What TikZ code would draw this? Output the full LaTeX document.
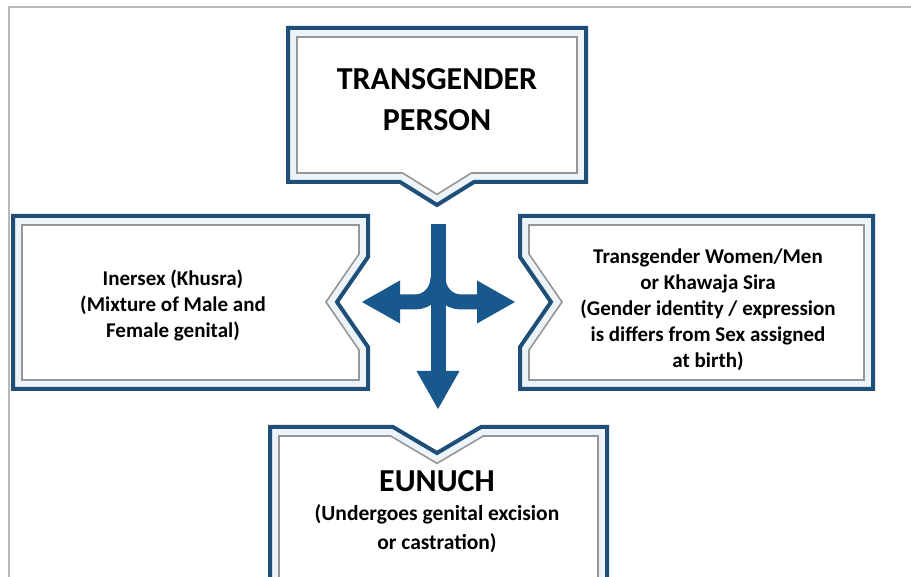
\documentclass[tikz,border=0pt]{standalone}
\usepackage{fontspec}
\setmainfont{Carlito}
\usetikzlibrary{arrows.meta}

\definecolor{boxblue}{RGB}{31,78,121}
\definecolor{arrowblue}{RGB}{24,88,140}
\definecolor{paleblue}{RGB}{236,244,250}
\definecolor{innergray}{RGB}{150,150,150}

\tikzset{
  outerline/.style={draw=boxblue, line width=4pt, fill=paleblue},
  innerline/.style={draw=innergray, line width=1.6pt, fill=white},
  arm/.style={draw=arrowblue, line width=15pt,
    -{Triangle[width=43pt,length=38pt,line width=0pt]}},
  title/.style={font=\fontsize{32}{41}\selectfont\bfseries, align=center, inner sep=0pt},
  desc/.style={font=\fontsize{21}{26}\selectfont\bfseries, align=center, inner sep=0pt},
}

\begin{document}
\begin{tikzpicture}[x=1pt, y=1pt]

  \clip (0,0) rectangle (911,577);
  \fill[white] (0,0) rectangle (911,577);

  % --- cornice ---
  \draw[gray!55, line width=2.5pt] (9,-5) -- (9,570) -- (916,570);

  % --- transgender person ---
  \draw[outerline] (288,549) -- (586,549) -- (586,395) -- (474,395)
    -- (437,372) -- (400,395) -- (288,395) -- cycle;
  \draw[innerline] (297,540) -- (577,540) -- (577,404) -- (471.4,404)
    -- (437,382.6) -- (402.6,404) -- (297,404) -- cycle;
  \node[title] (trans) at (437,477) {TRANSGENDER\\PERSON};

  % --- intersex ---
  \draw[outerline] (13,361) -- (368,361) -- (368,320) -- (337,275)
    -- (368,230) -- (368,188) -- (13,188) -- cycle;
  \draw[innerline] (22,352) -- (359,352) -- (359,323) -- (326,275)
    -- (359,227) -- (359,197) -- (22,197) -- cycle;
  \node[desc] (inter) at (173,271.5)
    {Inersex (Khusra)\\(Mixture of Male and\\Female genital)};

  % --- khawaja sira ---
  \draw[outerline] (520,361) -- (873,361) -- (873,188) -- (520,188)
    -- (520,230) -- (551,275) -- (520,320) -- cycle;
  \draw[innerline] (529,352) -- (864,352) -- (864,197) -- (529,197)
    -- (529,227) -- (562,275) -- (529,323) -- cycle;
  \node[desc] (khawaja) at (708,267.5)
    {Transgender Women/Men\\or Khawaja Sira\\(Gender identity / expression\\is differs from Sex assigned\\at birth)};

  % --- eunuch ---
  \draw[outerline] (270,150) -- (393,150) -- (437,124) -- (481,150)
    -- (607,150) -- (607,-20) -- (270,-20) -- cycle;
  \draw[innerline] (279,141) -- (390.6,141) -- (437,113.6) -- (483.4,141)
    -- (598,141) -- (598,-11) -- (279,-11) -- cycle;
  \node[title, anchor=base] (eunuch) at (437,85) {EUNUCH};
  \node[desc, font=\fontsize{21.5}{29}\selectfont\bfseries] (excision) at (437,48)
    {(Undergoes genital excision\\or castration)};

  % --- frecce ---
  \coordinate (fork) at (438,299);
  \coordinate (shafttop) at (438,353);
  \coordinate (larrow) at (362,275);
  \coordinate (rarrow) at (515,275);
  \coordinate (darrow) at (438,168);

  \draw[arm] (fork) to[out=-90, in=0] (415,275) -- (larrow);
  \draw[arm] (fork) to[out=-90, in=180] (461,275) -- (rarrow);
  \draw[arm] (shafttop) -- (darrow);

\end{tikzpicture}
\end{document}
